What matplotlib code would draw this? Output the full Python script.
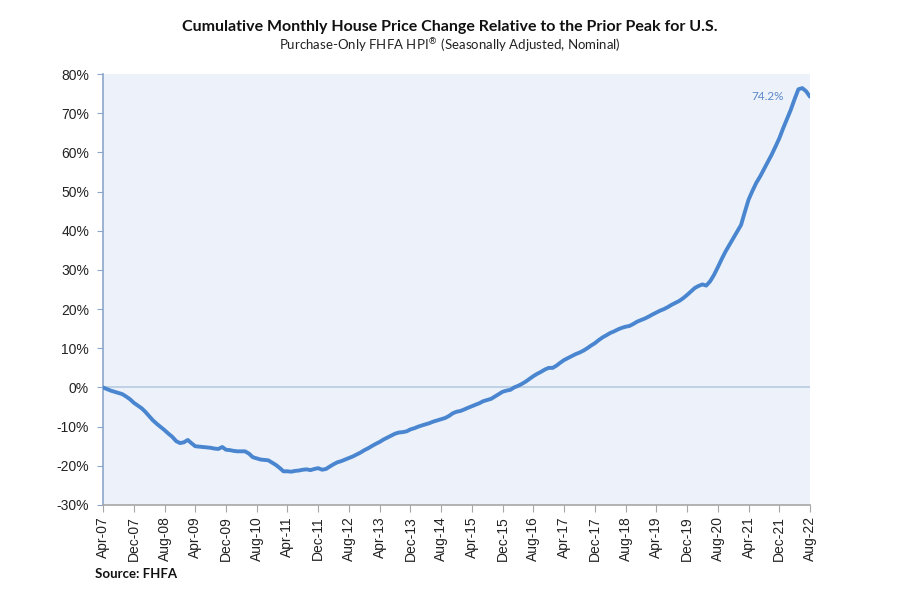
import matplotlib
matplotlib.use("Agg")
import matplotlib.pyplot as plt
import matplotlib.ticker as mticker
import numpy as np
import pandas as pd

# monthly cumulative change vs prior peak (%), Apr-07 .. Aug-22
y2007 = [0.0, -0.4, -0.8, -1.1, -1.4, -1.7, -2.3, -3.0, -3.9]
y2008 = [-4.6, -5.3, -6.2, -7.3, -8.4, -9.3, -10.1, -10.9, -11.8, -12.6, -13.7, -14.2]
y2009 = [-14.0, -13.4, -14.2, -15.0, -15.1, -15.2, -15.3, -15.4, -15.6, -15.7, -15.2, -15.9]
y2010 = [-16.0, -16.2, -16.3, -16.3, -16.3, -16.9, -17.8, -18.1, -18.4, -18.5, -18.6, -19.2]
y2011 = [-19.8, -20.6, -21.4, -21.4, -21.5, -21.3, -21.2, -21.0, -20.9, -21.1, -20.8, -20.6]
y2012 = [-21.0, -20.8, -20.2, -19.6, -19.1, -18.8, -18.4, -18.0, -17.6, -17.1, -16.6, -16.0]
y2013 = [-15.5, -14.9, -14.4, -13.9, -13.3, -12.8, -12.3, -11.8, -11.5, -11.4, -11.2, -10.7]
y2014 = [-10.4, -10.0, -9.7, -9.4, -9.1, -8.7, -8.4, -8.1, -7.8, -7.3, -6.6, -6.2]
y2015 = [-6.0, -5.6, -5.2, -4.8, -4.4, -4.0, -3.5, -3.2, -2.9, -2.3, -1.7, -1.1]
y2016 = [-0.8, -0.6, 0.0, 0.4, 0.9, 1.5, 2.2, 2.9, 3.5, 4.0, 4.6, 5.0]
y2017 = [5.0, 5.6, 6.3, 7.0, 7.5, 8.0, 8.5, 8.9, 9.4, 10.0, 10.7, 11.3]
y2018 = [12.1, 12.8, 13.3, 13.9, 14.3, 14.8, 15.2, 15.5, 15.7, 16.2, 16.8, 17.2]
y2019 = [17.6, 18.1, 18.6, 19.1, 19.6, 20.0, 20.5, 21.1, 21.6, 22.1, 22.8, 23.6]
y2020 = [24.5, 25.4, 25.9, 26.3, 26.0, 27.1, 28.7, 30.7, 32.8, 34.7, 36.4, 38.1]
y2021 = [39.7, 41.5, 44.6, 47.9, 50.1, 52.2, 53.8, 55.7, 57.6, 59.4, 61.5, 63.6]
y2022 = [66.2, 68.6, 70.8, 73.6, 76.1, 76.4, 75.6, 74.2]

values = np.array(y2007 + y2008 + y2009 + y2010 + y2011 + y2012 + y2013 + y2014
                  + y2015 + y2016 + y2017 + y2018 + y2019 + y2020 + y2021 + y2022)
dates = pd.date_range("2007-04-01", periods=len(values), freq="MS")
tick_dates = dates[::8]
tick_labels = [d.strftime("%b-%y") for d in tick_dates]

fig = plt.figure(figsize=(9, 5.93), dpi=100)
ax = fig.add_axes([0.1144, 0.1484, 0.7856, 0.7268])
ax.set_facecolor("#edf2fa")

ax.axhline(0, color="#b8cbe3", lw=1.2, zorder=1)
ax.plot(dates, values, color="#4a86d0", lw=2.8, solid_capstyle="round", zorder=3)

ax.set_xlim(dates[0], dates[-1])
ax.set_ylim(-30, 80)
ax.yaxis.set_major_locator(mticker.MultipleLocator(10))
ax.yaxis.set_major_formatter(mticker.FuncFormatter(lambda v, p: f"{v:.0f}%"))
ax.set_xticks(tick_dates)
ax.set_xticklabels(tick_labels, rotation=90)

for lab in ax.get_xticklabels() + ax.get_yticklabels():
    lab.set_family("Liberation Sans")
    lab.set_fontsize(10)
    lab.set_color("#222222")

for s in ["top", "right"]:
    ax.spines[s].set_visible(False)
ax.spines["left"].set_color("#8ca6cc")
ax.spines["left"].set_linewidth(1.2)
ax.spines["bottom"].set_color("#a6a6a6")
ax.spines["bottom"].set_linewidth(1.2)
ax.tick_params(axis="y", length=4, color="#8ca6cc", pad=6)
ax.tick_params(axis="x", length=5, color="#a6a6a6", pad=3)

ax.annotate(f"{values[-1]:.1f}%", xy=(dates[-1], values[-1]), xytext=(-26, 0),
            textcoords="offset pixels", ha="right", va="center",
            fontsize=8.5, color="#5b87c9", family="Lato")

fig.text(0.5, 0.955, "Cumulative Monthly House Price Change Relative to the Prior Peak for U.S.",
         ha="center", va="center", fontsize=11.5, fontweight="bold", family="Lato", color="#111111")
fig.text(0.5, 0.922, "Purchase-Only FHFA HPI$^{®}$ (Seasonally Adjusted, Nominal)",
         ha="center", va="center", fontsize=9.5, family="Lato", color="#222222")
fig.text(0.1056, 0.032, "Source: FHFA", ha="left", va="center",
         fontsize=9.5, fontweight="bold", family="Lato", color="#111111")

fig.savefig("out.png", dpi=100)
